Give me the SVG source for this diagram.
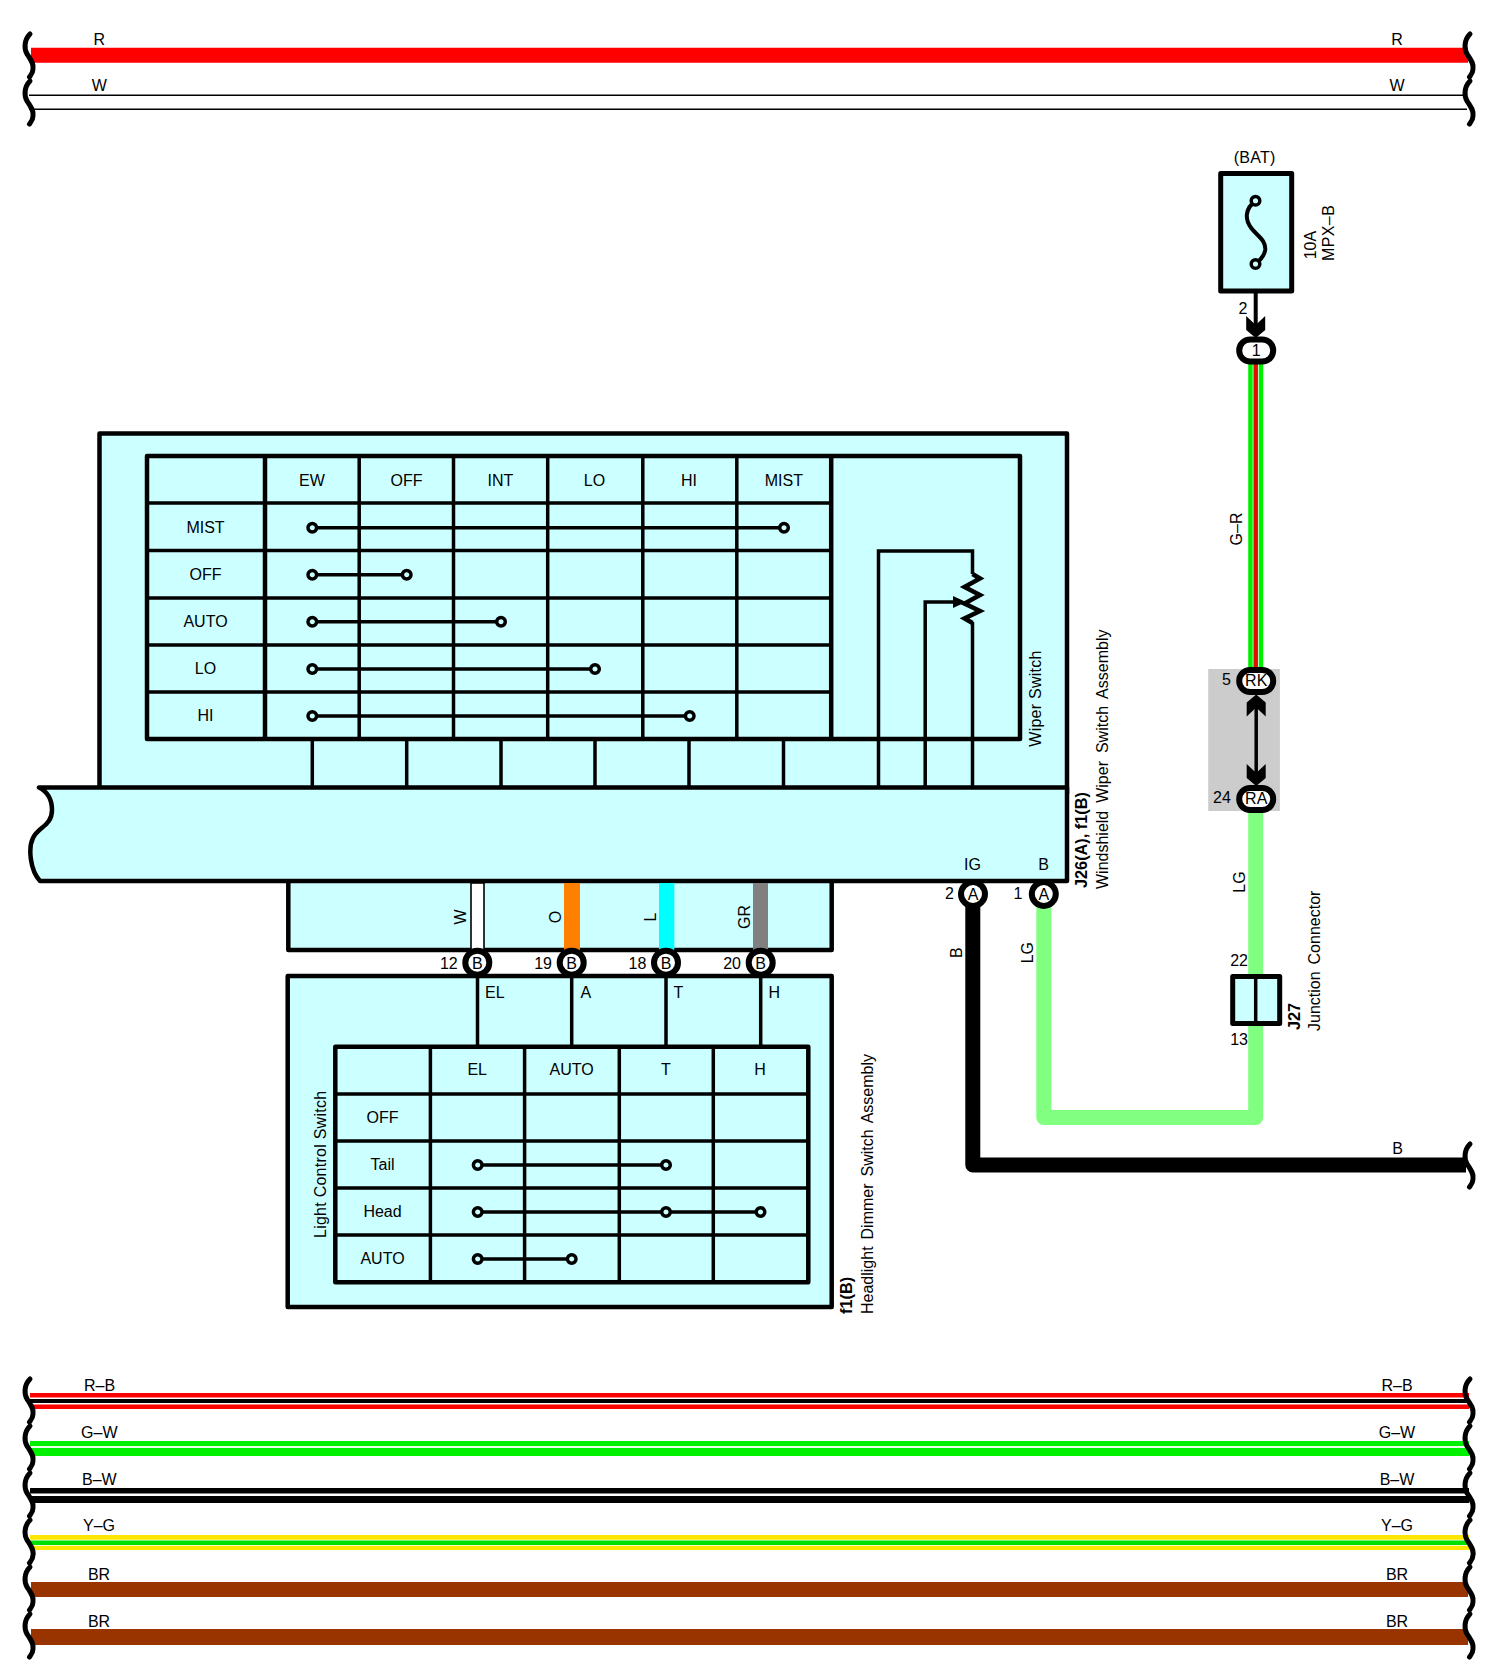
<svg xmlns="http://www.w3.org/2000/svg" xmlns:xlink="http://www.w3.org/1999/xlink" width="1494" height="1680" viewBox="0 0 1494 1680">
<style>
text{font-family:"Liberation Sans",Arial,sans-serif;font-size:16px;fill:#000}
.m{text-anchor:middle}.e{text-anchor:end}.b{font-weight:bold;font-size:16.3px}
.v{letter-spacing:.25px}
.box{fill:#ccffff;stroke:#000;stroke-width:4.5;stroke-linejoin:round}
.thin{fill:none;stroke:#000;stroke-width:3.5}
.thk{fill:none;stroke:#000;stroke-width:4.5}
.dot{fill:#ccffff;stroke:#000;stroke-width:3.5}
.ring{fill:#fff;stroke:#000;stroke-width:6}
.sq{fill:none;stroke:#000;stroke-width:5;stroke-linecap:round}
.w15{fill:none;stroke-width:15}
.gap{fill:none;stroke:#fff}
</style>
<defs>
<path id="sq" class="sq" d="M30,-21 C24,-15 24,-6 27,-1 C31,5 34,9 33,14 C33,18 31,20 29.5,22"/>
<circle id="d" class="dot" r="4.3"/>
<polygon id="chev" points="-9.5,-11 0,-2 9.5,-11 9.5,3 0,11 -9.5,3"/>
</defs>

<rect id="page" width="1494" height="1680" fill="#fff"/>

<g id="windshield-wiper-switch-assembly">
<rect class="box" x="288.3" y="870" width="543.4" height="80"/>
<rect class="box" x="99.5" y="433.5" width="967.5" height="360"/>
<path class="box" d="M39,787.5 L1067,787.5 L1067,881 L40,881 C30,870 28,848 33,838 C38,827 52,826 52,810 C52,800 48,792 39,787.5 Z"/>
<g id="wiper-switch-table">
<rect class="thk" x="147" y="456" width="873" height="283" stroke-linejoin="round"/>
<path class="thin" d="M147,503H831M147,550.5H831M147,598H831M147,645H831M147,692H831"/>
<path class="thk" d="M265,456V739M831.2,456V739"/>
<path class="thin" d="M359.2,456V739M453.5,456V739M547.7,456V739M642.8,456V739M736.8,456V739"/>
<path class="thin" d="M312.3,739V787M406.7,739V787M501,739V787M595,739V787M689,739V787M783.5,739V787M878.5,787V551H972.5V574M925.2,787V602H955M972.5,787V622"/>
<path class="thk" stroke-linejoin="miter" d="M972.5,574L980,578.5L964.5,587L980,595L964.5,603.5L980,611L964.5,618.5L972.5,623"/>
<polygon points="953,596 966,602 953,608"/>
<text x="312" y="485.7" class="m">EW</text><text x="406.5" y="485.7" class="m">OFF</text><text x="500.5" y="485.7" class="m">INT</text><text x="594.5" y="485.7" class="m">LO</text><text x="689" y="485.7" class="m">HI</text><text x="783.8" y="485.7" class="m">MIST</text>
<text x="205.5" y="533" class="m">MIST</text><text x="205.5" y="580" class="m">OFF</text><text x="205.5" y="626.7" class="m">AUTO</text><text x="205.5" y="673.7" class="m">LO</text><text x="205.5" y="721" class="m">HI</text>
<path class="thin" d="M312.3,527.7H784M312.3,574.7H406.7M312.3,621.7H501M312.3,669H595M312.3,716H689.7"/>
<use xlink:href="#d" x="312.3" y="527.7"/><use xlink:href="#d" x="784" y="527.7"/>
<use xlink:href="#d" x="312.3" y="574.7"/><use xlink:href="#d" x="406.7" y="574.7"/>
<use xlink:href="#d" x="312.3" y="621.7"/><use xlink:href="#d" x="501" y="621.7"/>
<use xlink:href="#d" x="312.3" y="669"/><use xlink:href="#d" x="595" y="669"/>
<use xlink:href="#d" x="312.3" y="716"/><use xlink:href="#d" x="689.7" y="716"/>
</g>
<text class="v" transform="translate(1041,746.7) rotate(-90)">Wiper Switch</text>
<text transform="translate(1108,889) rotate(-90)" style="word-spacing:3.5px">Windshield Wiper Switch  Assembly</text>
<text class="b" transform="translate(1086.5,888) rotate(-90)">J26(A), f1(B)</text>
<text x="972.5" y="870" class="m">IG</text><text x="1043.5" y="870" class="m">B</text>
</g>

<g id="headlight-dimmer-switch-assembly">
<rect class="box" x="287.7" y="976" width="544" height="331"/>
<rect class="thk" x="335.3" y="1046.7" width="473" height="235.5" stroke-linejoin="round"/>
<path class="thin" d="M335.3,1094H808.3M335.3,1141H808.3M335.3,1188H808.3M335.3,1235H808.3"/>
<path class="thin" d="M430.4,1046.7V1282M524.6,1046.7V1282M619.3,1046.7V1282M713.3,1046.7V1282"/>
<path class="thin" d="M477.5,976V1046.7M571.7,976V1046.7M666,976V1046.7M760.7,976V1046.7"/>
<text x="485" y="998">EL</text><text x="580.5" y="998">A</text><text x="673.5" y="998">T</text><text x="768.5" y="998">H</text>
<text x="477.2" y="1075.2" class="m">EL</text><text x="571.7" y="1075.2" class="m">AUTO</text><text x="666" y="1075.2" class="m">T</text><text x="760" y="1075.2" class="m">H</text>
<text x="382.5" y="1123" class="m">OFF</text><text x="382.5" y="1170" class="m">Tail</text><text x="382.5" y="1217.2" class="m">Head</text><text x="382.5" y="1264" class="m">AUTO</text>
<path class="thin" d="M477.7,1165H666M477.7,1212H760.5M477.7,1259H571.7"/>
<use xlink:href="#d" x="477.7" y="1165"/><use xlink:href="#d" x="666" y="1165"/>
<use xlink:href="#d" x="477.7" y="1212"/><use xlink:href="#d" x="666" y="1212"/><use xlink:href="#d" x="760.5" y="1212"/>
<use xlink:href="#d" x="477.7" y="1259"/><use xlink:href="#d" x="571.7" y="1259"/>
<text class="v" transform="translate(325.5,1238) rotate(-90)">Light Control Switch</text>
<text transform="translate(873,1314) rotate(-90)" style="word-spacing:2.5px">Headlight Dimmer Switch  Assembly</text>
<text class="b" transform="translate(852,1314) rotate(-90)">f1(B)</text>
</g>

<g id="connectors">
<line x1="31" y1="55.3" x2="1468" y2="55.3" class="w15" stroke="#ff0000"/>
<path d="M29,95.3H1467M29,109.3H1467" fill="none" stroke="#000" stroke-width="1.6"/>

<line x1="30" y1="1401" x2="1469" y2="1401" stroke="#ff0000" style="stroke-width:16"/>
<line x1="30" y1="1401" x2="1469" y2="1401" class="gap" style="stroke-width:7"/>
<line x1="30" y1="1401" x2="1469" y2="1401" fill="none" stroke="#000" stroke-width="4"/>
<line x1="30" y1="1448.5" x2="1469" y2="1448.5" class="w15" stroke="#00f000"/>
<line x1="30" y1="1447" x2="1469" y2="1447" stroke="#e8ffe8" stroke-width="2.2"/>
<line x1="30" y1="1495.5" x2="1469" y2="1495.5" class="w15" stroke="#000"/>
<line x1="30" y1="1494.7" x2="1469" y2="1494.7" stroke="#fff" stroke-width="2.5"/>
<line x1="30" y1="1542.5" x2="1469" y2="1542.5" class="w15" stroke="#ffe600"/>
<line x1="30" y1="1542.7" x2="1469" y2="1542.7" stroke="#fff" stroke-width="6"/>
<line x1="30" y1="1542.7" x2="1469" y2="1542.7" stroke="#00e000" stroke-width="4.5"/>
<line x1="31" y1="1589.5" x2="1468" y2="1589.5" class="w15" stroke="#993300"/>
<line x1="31" y1="1637" x2="1468" y2="1637" stroke="#993300" style="stroke-width:16"/>

<use xlink:href="#sq" x="0" y="55"/><use xlink:href="#sq" x="0" y="102"/>
<use xlink:href="#sq" x="1440" y="55"/><use xlink:href="#sq" x="1440" y="102"/>
<use xlink:href="#sq" x="0" y="1400"/><use xlink:href="#sq" x="0" y="1447"/><use xlink:href="#sq" x="0" y="1494"/><use xlink:href="#sq" x="0" y="1541"/><use xlink:href="#sq" x="0" y="1588"/><use xlink:href="#sq" x="0" y="1635"/>
<use xlink:href="#sq" x="1440" y="1400"/><use xlink:href="#sq" x="1440" y="1447"/><use xlink:href="#sq" x="1440" y="1494"/><use xlink:href="#sq" x="1440" y="1541"/><use xlink:href="#sq" x="1440" y="1588"/><use xlink:href="#sq" x="1440" y="1635"/>

<rect x="471" y="883" width="13" height="67" fill="#fff" stroke="#000" stroke-width="1.6"/>
<rect x="564" y="883" width="16" height="67" fill="#ff8000"/>
<rect x="659" y="883" width="15.3" height="67" fill="#00ffff"/>
<rect x="753" y="883" width="15" height="67" fill="#808080"/>

<path d="M1043.8,894V1117.5H1255.7V812" class="w15" stroke="#80ff80" stroke-linejoin="round"/>
<path d="M972.8,894V1165H1466" class="w15" stroke="#000" stroke-linejoin="round"/>
<use xlink:href="#sq" x="1440" y="1165"/>
<line x1="1255.7" y1="350" x2="1255.7" y2="668" class="w15" stroke="#00f000"/>
<line x1="1255.7" y1="350" x2="1255.7" y2="668" fill="none" stroke="#fff" stroke-width="6"/>
<line x1="1255.7" y1="350" x2="1255.7" y2="668" fill="none" stroke="#e01000" stroke-width="4.5"/>
<line x1="1255.7" y1="264" x2="1255.7" y2="330" stroke="#000" stroke-width="4"/>
</g>

<g id="labels-wires">
<text x="99.3" y="44.5" class="m">R</text><text x="99.3" y="91.2" class="m">W</text>
<text x="1397" y="44.5" class="m">R</text><text x="1397" y="91.2" class="m">W</text>
<text x="99.5" y="1390.5" class="m">R–B</text><text x="99.3" y="1437.8" class="m">G–W</text><text x="99.3" y="1484.5" class="m">B–W</text><text x="99" y="1531.2" class="m">Y–G</text><text x="99" y="1579.5" class="m">BR</text><text x="99" y="1626.8" class="m">BR</text>
<text x="1397" y="1390.5" class="m">R–B</text><text x="1397" y="1437.8" class="m">G–W</text><text x="1397" y="1484.5" class="m">B–W</text><text x="1397" y="1531.2" class="m">Y–G</text><text x="1397" y="1579.5" class="m">BR</text><text x="1397" y="1626.8" class="m">BR</text>
<text x="1397.5" y="1154" class="m">B</text>
<text class="m" transform="translate(465.5,917) rotate(-90)">W</text>
<text class="m" transform="translate(561,917) rotate(-90)">O</text>
<text class="m" transform="translate(656,917) rotate(-90)">L</text>
<text class="m" transform="translate(750,917) rotate(-90)">GR</text>
<text class="m" transform="translate(962,952.7) rotate(-90)">B</text>
<text class="m" transform="translate(1033,952.7) rotate(-90)">LG</text>
<text class="m" transform="translate(1244.7,882) rotate(-90)">LG</text>
<text class="m" transform="translate(1242,529) rotate(-90)">G–R</text>
</g>

<g id="fuse-bat" transform="translate(-0.8,0)">
<rect class="box" x="1221.5" y="173.5" width="71" height="117.5" style="stroke-width:5"/>
<path d="M1256.3,201 C1245,209 1246,220 1252,228 C1258,236 1267,240 1266,250 C1265,257 1260,261 1256.3,264" fill="none" stroke="#000" stroke-width="4"/>
<circle class="dot" cx="1256.3" cy="200.7" r="4.3"/><circle class="dot" cx="1256.3" cy="264" r="4.3"/>
<text x="1255.5" y="163" class="m" style="letter-spacing:.3px">(BAT)</text>
<text transform="translate(1317,259.3) rotate(-90)">10A</text>
<text transform="translate(1335,261) rotate(-90)" style="letter-spacing:.4px">MPX–B</text>
<text x="1248.3" y="314" class="e">2</text>
<use xlink:href="#chev" x="1256.5" y="327"/>
</g>

<g id="connector-1" transform="translate(-0.8,0)">
<rect class="ring" x="1240" y="339.5" width="34" height="22" rx="11"/>
<text x="1257" y="356" class="m">1</text>
</g>

<g id="splice-rk-ra" transform="translate(-0.8,0)">
<rect x="1209" y="669" width="71.7" height="142" fill="#cccccc"/>
<line x1="1257" y1="700" x2="1257" y2="780" stroke="#000" stroke-width="3.5"/>
<use xlink:href="#chev" transform="translate(1257,705.5) scale(1,-1)"/>
<use xlink:href="#chev" x="1257" y="775"/>
<rect class="ring" x="1240" y="670" width="34" height="22" rx="11"/>
<rect class="ring" x="1240" y="788" width="34" height="22" rx="11"/>
<text x="1257" y="685.7" class="m">RK</text><text x="1257" y="803.7" class="m">RA</text>
<text x="1231.7" y="685" class="e">5</text><text x="1231.7" y="803.3" class="e">24</text>
</g>

<g id="conn-a">
<circle class="ring" cx="973" cy="894" r="12"/><circle class="ring" cx="1043.8" cy="894" r="12"/>
<text x="973" y="900" class="m">A</text><text x="1043.8" y="900" class="m">A</text>
<text x="954" y="899.3" class="e">2</text><text x="1022.5" y="899.3" class="e">1</text>
</g>

<g id="conn-b">
<circle class="ring" cx="477.3" cy="962.7" r="12"/><circle class="ring" cx="571.7" cy="962.7" r="12"/><circle class="ring" cx="666" cy="962.7" r="12"/><circle class="ring" cx="760.7" cy="962.7" r="12"/>
<text x="477.3" y="968.5" class="m">B</text><text x="571.7" y="968.5" class="m">B</text><text x="666" y="968.5" class="m">B</text><text x="760.7" y="968.5" class="m">B</text>
<text x="457.7" y="969" class="e">12</text><text x="552" y="969" class="e">19</text><text x="646.3" y="969" class="e">18</text><text x="741" y="969" class="e">20</text>
</g>

<g id="j27-junction-connector" transform="translate(-0.8,0)">
<rect class="box" x="1233.5" y="976.5" width="47" height="47" style="stroke-width:5"/>
<line x1="1256.5" y1="976.5" x2="1256.5" y2="1023.5" stroke="#000" stroke-width="3.5"/>
<text x="1231" y="965.7">22</text><text x="1231" y="1045">13</text>
<text class="b" transform="translate(1301,1030) rotate(-90)">J27</text>
<text transform="translate(1321,1031) rotate(-90)" style="word-spacing:2.5px">Junction  Connector</text>
</g>
</svg>
